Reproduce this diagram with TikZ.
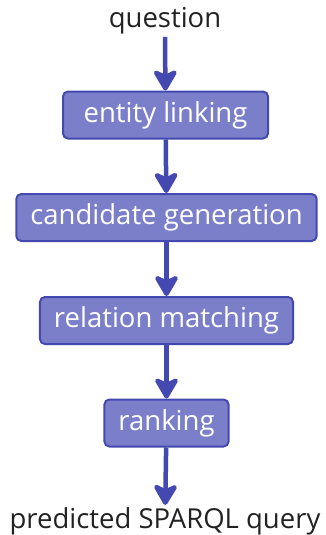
\documentclass[tikz,border=0pt]{standalone}
\usepackage{fontspec}
\setmainfont{Open Sans}
\usetikzlibrary{arrows.meta}

\definecolor{stagefill}{HTML}{7B7FC9}
\definecolor{stageedge}{HTML}{4449B1}
\definecolor{labeltext}{HTML}{222222}

\tikzset{
  stage/.style={draw=stageedge, fill=stagefill, line width=2pt, rounded corners=5pt,
    text=white, minimum height=47pt, inner xsep=14pt, font=\fontsize{27.5}{30}\selectfont},
  endpoint/.style={text=labeltext, anchor=base, inner sep=2pt, font=\fontsize{27.5}{30}\selectfont},
  flow/.style={draw=stageedge, line width=4.5pt,
    -{Stealth[length=25pt, width=29pt, inset=7pt, round]}}
}

\begin{document}
\begin{tikzpicture}[x=1pt, y=-1pt]
\useasboundingbox (0,0) rectangle (325,535);
\node[endpoint] (question) at (165,28) {question};
\node[stage, minimum width=205pt] (linking) at (165.5,115) {entity linking};
\node[stage] (candidates) at (166.5,217.5) {candidate generation};
\node[stage] (relations) at (166.5,320.5) {relation matching};
\node[stage] (ranking) at (166.5,423) {ranking};
\node[endpoint] (query) at (165,528) {predicted SPARQL query};
\draw[flow] (question) -- (linking);
\draw[flow] (linking) -- (candidates);
\draw[flow] (candidates) -- (relations);
\draw[flow] (relations) -- (ranking);
\draw[flow] (ranking) -- (query);
\end{tikzpicture}
\end{document}
